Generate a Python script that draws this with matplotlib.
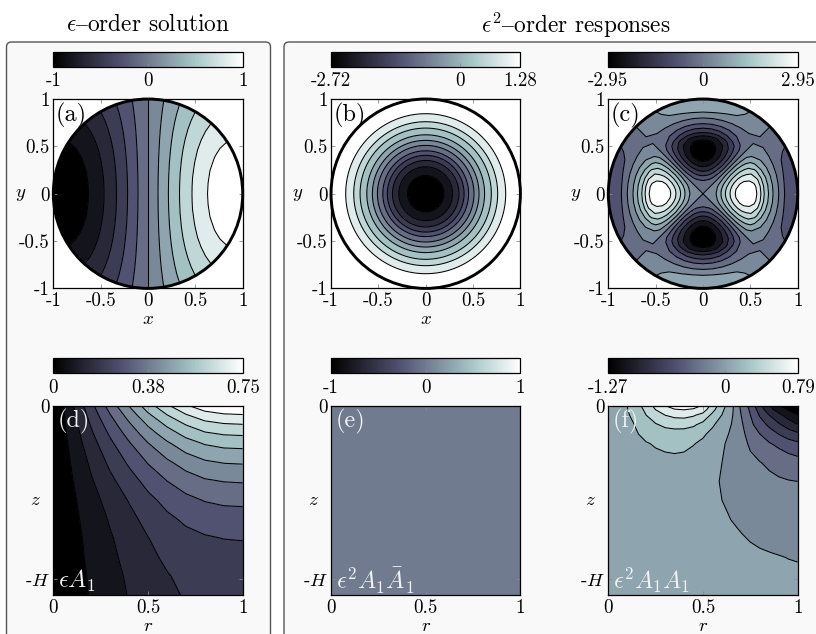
import matplotlib
matplotlib.use('Agg')
import matplotlib.pyplot as plt
import numpy as np
from matplotlib.cm import ScalarMappable
from matplotlib.colors import Normalize
from matplotlib.patches import Circle, FancyBboxPatch
from matplotlib.transforms import IdentityTransform

plt.rcParams['font.family'] = ['cmr10', 'DejaVu Sans']
plt.rcParams['mathtext.fontset'] = 'cm'
plt.rcParams['axes.formatter.use_mathtext'] = True

# panel a: one quadrant, rows are radius, columns are angle 0..90 deg
a_r = [0, .1, .2, .3, .4, .5, .6, .7, .8, .9, 1]
a_values = [
    [0, 0, 0, 0, 0, 0, 0, 0, 0, 0],
    [.158, .156, .148, .137, .121, .102, .079, .054, .027, 0],
    [.311, .306, .292, .269, .238, .200, .156, .106, .054, 0],
    [.456, .449, .429, .395, .349, .293, .228, .156, .079, 0],
    [.590, .581, .554, .511, .452, .379, .295, .202, .103, 0],
    [.709, .698, .666, .614, .543, .456, .354, .242, .123, 0],
    [.810, .798, .761, .701, .620, .521, .405, .277, .141, 0],
    [.891, .878, .837, .772, .683, .573, .446, .305, .155, 0],
    [.950, .936, .893, .823, .728, .611, .475, .325, .165, 0],
    [.987, .972, .928, .855, .756, .634, .493, .338, .171, 0],
    [1.00, .985, .940, .866, .766, .643, .500, .342, .174, 0],
]

# panel b: axisymmetric, radius and value
b_r = [0, .192, .284, .351, .405, .453, .51, .563, .622, .693, .76, .845, 1]
b_values = [-2.72, -2.387, -2.053, -1.72, -1.387, -1.053, -.72, -.387, -.053, .28, .613, .947, 1.28]

# panel c: one octant, rows are radius, columns are angle 0..45 deg
c_r = [0, .05, .1, .15, .2, .25, .3, .35, .4, .45, .5, .55, .6, .65, .7, .75, .8, .85, .9, .95, 1]
c_values = [
    [0, 0, 0, 0, 0, 0, 0],
    [.06, .06, .05, .04, .03, .02, 0],
    [.25, .24, .22, .18, .13, .06, 0],
    [.56, .54, .48, .40, .28, .15, 0],
    [1.09, 1.05, .94, .77, .55, .28, 0],
    [1.62, 1.56, 1.40, 1.15, .81, .42, 0],
    [2.11, 2.04, 1.83, 1.49, 1.06, .58, 0],
    [2.54, 2.45, 2.20, 1.80, 1.30, .72, 0],
    [2.82, 2.72, 2.44, 2.00, 1.43, .78, 0],
    [2.95, 2.85, 2.55, 2.10, 1.52, .84, 0],
    [2.88, 2.78, 2.49, 2.06, 1.50, .83, 0],
    [2.65, 2.58, 2.35, 1.95, 1.42, .78, 0],
    [2.13, 2.09, 1.92, 1.62, 1.21, .70, 0],
    [1.43, 1.40, 1.29, 1.09, .82, .47, 0],
    [.90, .88, .81, .68, .51, .30, 0],
    [.39, .38, .35, .30, .22, .13, 0],
    [0, 0, 0, 0, 0, 0, 0],
    [-.42, -.41, -.36, -.30, -.21, -.11, 0],
    [-.72, -.70, -.62, -.51, -.36, -.19, 0],
    [-.88, -.85, -.76, -.62, -.44, -.23, 0],
    [-.98, -.95, -.85, -.69, -.49, -.25, 0],
]

# panel d: rows are depth below z=0 (fraction of the axis), columns are r
d_r = [0, .1, .2, .3, .4, .5, .6, .7, .8, .9, 1]
d_depth = [0, .05, .1, .15, .2, .3, .4, .5, .6, .7, .8, .9, 1]
d_values = [
    [0, .117, .233, .340, .440, .535, .615, .680, .725, .745, .750],
    [0, .106, .212, .309, .400, .487, .560, .619, .660, .678, .683],
    [0, .097, .193, .282, .365, .444, .510, .564, .602, .618, .623],
    [0, .089, .177, .258, .334, .407, .467, .517, .551, .566, .570],
    [0, .081, .162, .236, .306, .372, .427, .473, .504, .518, .521],
    [0, .069, .137, .201, .260, .316, .363, .401, .428, .440, .443],
    [0, .059, .118, .172, .222, .270, .311, .343, .366, .376, .379],
    [0, .051, .101, .148, .191, .233, .268, .296, .315, .324, .326],
    [0, .045, .090, .131, .170, .206, .237, .260, .276, .283, .285],
    [0, .040, .082, .119, .153, .186, .212, .233, .244, .251, .253],
    [0, .039, .076, .111, .144, .175, .197, .213, .222, .228, .230],
    [0, .035, .071, .104, .134, .163, .184, .200, .207, .212, .214],
    [0, .034, .068, .100, .128, .156, .176, .192, .198, .203, .205],
]

# panel e: flat zero field
e_values = [[0.0]]

# panel f: rows are depth, columns are r
f_r = [0, .05, .1, .15, .2, .25, .3, .35, .4, .45, .5, .55, .6, .65, .7, .75, .8, .85, .9, .95, 1]
f_depth = [0, .02, .05, .1, .15, .2, .3, .4, .5, .6, .7, .8, .9, 1]
f_values = [
    [0, .05, .103, .215, .345, .50, .618, .70, .72, .69, .60, .38, .18, -.015, -.27, -.47, -.715, -.915, -1.075, -1.2, -1.27],
    [0, .045, .098, .20, .31, .45, .57, .61, .625, .60, .53, .33, .14, -.025, -.255, -.44, -.66, -.87, -1.0, -1.115, -1.205],
    [0, .04, .085, .16, .275, .375, .447, .49, .50, .465, .39, .235, .10, -.04, -.235, -.41, -.60, -.755, -.88, -1.0, -1.09],
    [0, .035, .07, .115, .19, .26, .31, .33, .33, .30, .225, .125, .03, -.07, -.205, -.37, -.50, -.62, -.73, -.83, -.92],
    [.01, .03, .06, .095, .14, .175, .20, .21, .205, .18, .125, .06, -.02, -.09, -.18, -.32, -.41, -.50, -.585, -.665, -.72],
    [.01, .03, .05, .075, .095, .115, .13, .135, .13, .11, .075, .02, -.05, -.105, -.165, -.27, -.335, -.40, -.45, -.51, -.55],
    [.02, .03, .04, .05, .06, .065, .07, .075, .07, .045, .03, -.02, -.068, -.11, -.155, -.195, -.235, -.265, -.295, -.32, -.345],
    [.03, .03, .035, .04, .04, .04, .04, .04, .035, .02, 0, -.04, -.08, -.112, -.14, -.165, -.188, -.207, -.222, -.233, -.24],
    [.03, .03, .03, .03, .03, .03, .03, .03, .03, .02, -.005, -.04, -.068, -.09, -.11, -.128, -.143, -.155, -.165, -.171, -.175],
    [.03, .03, .03, .03, .03, .03, .03, .03, .025, .015, 0, -.025, -.05, -.07, -.087, -.102, -.114, -.122, -.128, -.132, -.135],
    [.03, .03, .03, .03, .03, .03, .03, .03, .025, .015, .005, -.012, -.03, -.045, -.06, -.074, -.084, -.09, -.095, -.098, -.10],
    [.03, .03, .03, .03, .03, .03, .03, .025, .02, .01, .005, -.005, -.015, -.027, -.037, -.046, -.054, -.06, -.065, -.07, -.073],
    [.03, .03, .03, .03, .03, .03, .025, .02, .02, .01, 0, -.005, -.012, -.02, -.028, -.034, -.04, -.045, -.049, -.052, -.055],
    [.03, .03, .03, .03, .03, .025, .02, .02, .01, .01, 0, -.005, -.01, -.015, -.02, -.025, -.03, -.033, -.036, -.038, -.04],
]

# colour bar limits and tick labels
bar_ticks = [[-1, 0, 1], [-2.72, 0, 1.28], [-2.95, 0, 2.95],
             [0, .375, .75], [-1, 0, 1], [-1.27, 0, .79]]
bar_labels = [['-1', '0', '1'], ['-2.72', '0', '1.28'], ['-2.95', '0', '2.95'],
              ['0', '0.38', '0.75'], ['-1', '0', '1'], ['-1.27', '0', '0.79']]
panel_names = ['(a)', '(b)', '(c)', '(d)', '(e)', '(f)']
corner_names = [r'$\epsilon A_1$', r'$\epsilon^2 A_1\bar{A}_1$', r'$\epsilon^2 A_1 A_1$']

W, H = 816, 634
LEFT = [53.3, 331, 608.3]
WIDTH = 189.4
TOP = [99, 405.7]
BAR_TOP = [51.5, 358.3]
BAR_H = 15
FS = 13.6
GREY = '#8a8a8a'
bone = plt.get_cmap('bone')
band_colors = bone(np.linspace(0, 1, 12))

fig = plt.figure(figsize=(W / 100, H / 100), dpi=100, facecolor='white')


def px_axes(x, y, w, h):
    return fig.add_axes([x / W, 1 - (y + h) / H, w / W, h / H])


def bands(ax, X, Y, Z, lo, hi):
    lev = np.linspace(lo, hi, 13)
    fill = lev.copy()
    fill[0] -= 1
    fill[-1] += 1
    ax.contourf(X, Y, Z, levels=fill, colors=band_colors)
    ax.contour(X, Y, Z, levels=lev[1:-1], colors='k', linewidths=.75, linestyles='solid')


def polar(r, Z):
    th = np.radians(np.linspace(0, 360, Z.shape[1]))
    r = np.asarray(r)
    return np.outer(r, np.cos(th)), np.outer(r, np.sin(th))


def style(ax):
    ax.tick_params(direction='in', top=True, right=True, length=3, width=.6,
                   color=GREY, labelsize=FS, pad=3)
    ax.tick_params(axis='y', pad=2.5)
    for s in ax.spines.values():
        s.set_linewidth(.9)


for x, name in zip([148, 576], [r'$\epsilon\mathrm{–}$order solution', r'$\epsilon^2\mathrm{–}$order responses']):
    fig.text(x / W, 1 - 25 / H, name, ha='center', va='center', fontsize=16.8)

for x0, x1 in [(6.5, 270.5), (284, 860)]:
    fig.add_artist(FancyBboxPatch((x0, -40), x1 - x0, H - 42 + 40,
                                  boxstyle='round,pad=0,rounding_size=5',
                                  transform=IdentityTransform(), fc='#f9f9f9',
                                  ec='#555555', lw=1, zorder=-1))

# build the full fields from the symmetric parts
v = np.array(a_values)
half = np.hstack([v, -v[:, -2::-1]])
a_full = np.hstack([half, half[:, -2::-1]])

b_full = np.tile(np.array(b_values)[:, None], (1, 121))

v = np.array(c_values)
quad = np.hstack([v, -v[:, -2::-1]])
half = np.hstack([quad, quad[:, -2::-1]])
c_full = np.hstack([half, half[:, -2::-1]])

disc_r = [a_r, b_r, c_r]
disc_z = [a_full, b_full, c_full]
disc_lim = [(-1, 1), (-2.72, 1.28), (-2.95, 2.95)]

for i in range(3):
    ax = px_axes(LEFT[i], TOP[0], WIDTH, WIDTH)
    X, Y = polar(disc_r[i], disc_z[i])
    bands(ax, X, Y, disc_z[i], *disc_lim[i])
    ax.add_patch(Circle((0, 0), 1, fill=False, ec='k', lw=2.1, clip_on=False, zorder=5))
    ax.set_xlim(-1, 1)
    ax.set_ylim(-1, 1)
    ax.set_xticks([-1, -.5, 0, .5, 1], ['-1', '-0.5', '0', '0.5', '1'])
    ax.set_yticks([-1, -.5, 0, .5, 1], ['-1', '-0.5', '0', '0.5', '1'])
    style(ax)
    ax.text(.012, .915, panel_names[i], transform=ax.transAxes, fontsize=17.5, va='center', zorder=6)
    if i < 2:
        ax.set_xlabel(r'$x$', fontsize=FS, va='center')
        ax.xaxis.set_label_coords(.5, -31 / WIDTH)
    ax.set_ylabel(r'$y$', fontsize=FS, rotation=0, va='center', ha='center')
    ax.yaxis.set_label_coords(-33 / WIDTH, .5)

for i in range(3):
    ax = px_axes(LEFT[i], TOP[1], WIDTH, WIDTH)
    if i == 0:
        bands(ax, d_r, -np.array(d_depth), np.array(d_values), 0, .75)
    elif i == 1:
        ax.pcolormesh([0, 1], [-1, 0], e_values, cmap=bone, vmin=-1, vmax=1)
    else:
        bands(ax, f_r, -np.array(f_depth), np.array(f_values), -1.27, .79)
    ax.set_xlim(0, 1)
    ax.set_ylim(-1, 0)
    ax.set_xticks([0, .5, 1], ['0', '0.5', '1'])
    ax.set_yticks([-.915, 0], ['-$H$', '0'])
    style(ax)
    ax.text(.025, .915, panel_names[i + 3], transform=ax.transAxes, fontsize=17.5, va='center',
            color='#f2f2f2')
    ax.text(.025, .076, corner_names[i], transform=ax.transAxes, fontsize=17.5, va='center',
            color='#f2f2f2')
    ax.set_xlabel(r'$r$', fontsize=FS, va='center')
    ax.xaxis.set_label_coords(.5, -30.5 / WIDTH)
    ax.set_ylabel(r'$z$', fontsize=FS, rotation=0, va='center', ha='center')
    ax.yaxis.set_label_coords(-18 / WIDTH, .5)

for row in range(2):
    for i in range(3):
        k = row * 3 + i
        cax = px_axes(LEFT[i], BAR_TOP[row], WIDTH, BAR_H)
        lim = bar_ticks[k]
        sm = ScalarMappable(Normalize(lim[0], lim[-1]), bone)
        cb = fig.colorbar(sm, cax=cax, orientation='horizontal', ticks=lim)
        cb.ax.set_xticklabels(bar_labels[k])
        cb.ax.tick_params(direction='in', length=3, width=.6, color=GREY, labelsize=FS, pad=4)
        cb.outline.set_linewidth(.9)

fig.savefig('out.png', dpi=100)
